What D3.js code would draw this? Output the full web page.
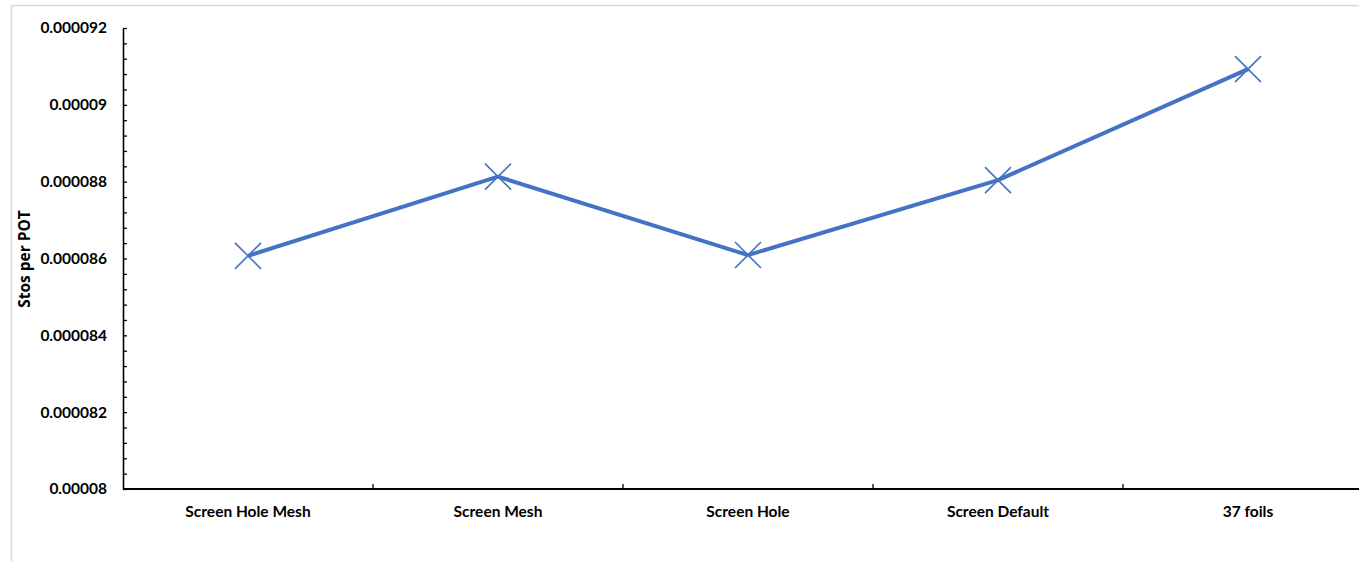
<!DOCTYPE html>
<html>
<head>
<meta charset="utf-8">
<script src="https://cdn.jsdelivr.net/npm/d3@7"></script>
<style>
  html, body { margin: 0; padding: 0; background: #fff; }
  svg { display: block; }
  text { font-family: Lato, "Open Sans", sans-serif; font-weight: 700; fill: #000; }
</style>
</head>
<body>
<svg id="chart" width="1359" height="562"></svg>
<script>
// Configurations compared
const categories = ["Screen Hole Mesh", "Screen Mesh", "Screen Hole", "Screen Default", "37 foils"];
// Stopped muons per proton on target
const stosPerPOT = [0.00008607, 0.00008813, 0.00008609, 0.00008804, 0.00009093];
// Y axis labels
const yTicks = [0.00008, 0.000082, 0.000084, 0.000086, 0.000088, 0.00009, 0.000092];
const yTickLabels = ["0.00008", "0.000082", "0.000084", "0.000086", "0.000088", "0.00009", "0.000092"];
const yMinorStep = 0.0000004;

const svg = d3.select("#chart");
const W = 1359, H = 562;
const margin = { left: 123, top: 28, bottom: 73 };
const plotW = 1250;

// chart frame
svg.append("path")
  .attr("d", `M11.5,${H} V5.5 H${W}`)
  .attr("fill", "none").attr("stroke", "#d9d9d9").attr("stroke-width", 1.5);

const x = d3.scaleBand().domain(categories).range([margin.left, margin.left + plotW]);
const y = d3.scaleLinear().domain([0.00008, 0.000092]).range([H - margin.bottom, margin.top]);

// minor ticks on the value axis
const minor = d3.range(0.00008, 0.000092 + 1e-12, yMinorStep);
svg.append("g").attr("transform", `translate(${margin.left},0)`)
  .call(d3.axisRight(y).tickValues(minor).tickSize(4).tickFormat(""))
  .call(g => g.select(".domain").remove())
  .selectAll("line").attr("stroke", "#000").attr("stroke-width", 1.3);

// value axis
const yAxis = svg.append("g").attr("transform", `translate(${margin.left},0)`)
  .call(d3.axisLeft(y).tickValues(yTicks).tickSize(0).tickPadding(16)
    .tickFormat((d, i) => yTickLabels[i]));
yAxis.select(".domain").attr("stroke", "#000").attr("stroke-width", 1.6);
yAxis.selectAll("text").style("font-size", "15.5px").style("font-family", "Lato, sans-serif").style("font-weight", "700");

// category axis with boundary ticks
const xAxisY = H - margin.bottom;
const xg = svg.append("g").attr("transform", `translate(0,${xAxisY})`);
xg.append("line").attr("x1", margin.left).attr("x2", margin.left + plotW)
  .attr("stroke", "#000").attr("stroke-width", 1.8);
xg.selectAll(".bt").data(categories.slice(1)).join("line")
  .attr("x1", d => x(d)).attr("x2", d => x(d))
  .attr("y1", 0).attr("y2", -5)
  .attr("stroke", "#000").attr("stroke-width", 1.3);
xg.selectAll(".lbl").data(categories).join("text")
  .attr("x", d => x(d) + x.bandwidth() / 2)
  .attr("y", 28)
  .attr("text-anchor", "middle")
  .style("font-size", "15.5px")
  .text(d => d);

// axis title
svg.append("text")
  .attr("transform", `translate(30,${259}) rotate(-90)`)
  .attr("text-anchor", "middle")
  .style("font-family", "'Open Sans', sans-serif")
  .style("font-size", "15.5px")
  .text("Stos per POT");

// series line
const pts = categories.map((c, i) => [x(c) + x.bandwidth() / 2, y(stosPerPOT[i])]);
svg.append("path")
  .attr("d", d3.line()(pts))
  .attr("fill", "none").attr("stroke", "#4472c4").attr("stroke-width", 4)
  .attr("stroke-linejoin", "round");

// x markers
const s = 13;
svg.selectAll(".mk").data(pts).join("path")
  .attr("d", d => `M${d[0]-s},${d[1]-s} L${d[0]+s},${d[1]+s} M${d[0]-s},${d[1]+s} L${d[0]+s},${d[1]-s}`)
  .attr("stroke", "#4472c4").attr("stroke-width", 1.6).attr("fill", "none");
</script>
</body>
</html>
